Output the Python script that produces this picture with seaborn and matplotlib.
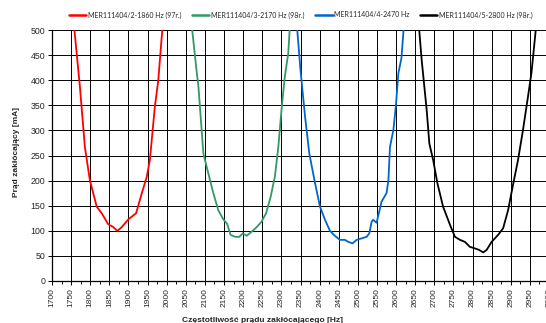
import matplotlib
matplotlib.use("Agg")
import matplotlib.pyplot as plt
import matplotlib.ticker as mticker
import seaborn as sns
import pandas as pd

# Interference-current sweeps for four receivers (frequency in Hz, current in mA)
labels = [
    "MER111404/2-1860 Hz (97r.)",
    "MER111404/3-2170 Hz (98r.)",
    "MER111404/4-2470 Hz",
    "MER111404/5-2800 Hz (98r.)",
]
colors = ["#FF0000", "#339966", "#0066CC", "#000000"]

freq_2 = [1758, 1773, 1786, 1799, 1817, 1830, 1847, 1859, 1871, 1882, 1900, 1920,
          1935, 1948, 1956, 1969, 1978, 1989]
curr_2 = [505, 387, 267, 201, 148, 135, 113, 108, 100, 107, 123, 135,
          175, 208, 241, 347, 400, 505]

freq_3 = [2066, 2078, 2083, 2096, 2109, 2122, 2135, 2148, 2158, 2167, 2179, 2190,
          2199, 2209, 2222, 2235, 2248, 2260, 2272, 2283, 2292, 2301, 2309, 2318, 2322]
curr_3 = [505, 420, 387, 254, 214, 175, 141, 123, 114, 92, 88, 88,
          95, 90, 98, 107, 118, 135, 168, 208, 267, 347, 407, 454, 505]

freq_4 = [2341, 2350, 2362, 2373, 2388, 2401, 2414, 2427, 2440, 2453, 2466, 2475,
          2486, 2497, 2510, 2523, 2530, 2536, 2540, 2549, 2562, 2575, 2580, 2584,
          2593, 2600, 2606, 2614, 2620]
curr_4 = [505, 420, 327, 254, 195, 148, 122, 100, 90, 82, 82, 78,
          75, 82, 85, 88, 95, 118, 122, 116, 158, 175, 201, 267,
          301, 354, 414, 444, 505]

freq_5 = [2660, 2667, 2680, 2687, 2697, 2708, 2723, 2741, 2754, 2767, 2780, 2793,
          2806, 2817, 2828, 2837, 2850, 2867, 2880, 2893, 2906, 2919, 2932, 2945,
          2954, 2966]
curr_5 = [505, 440, 341, 274, 241, 195, 148, 112, 88, 82, 78, 68,
          65, 62, 57, 62, 78, 92, 105, 141, 192, 241, 301, 367,
          414, 505]

frames = []
for lab, f, c in zip(labels, [freq_2, freq_3, freq_4, freq_5],
                     [curr_2, curr_3, curr_4, curr_5]):
    frames.append(pd.DataFrame({"freq": f, "curr": c, "series": lab}))
df = pd.concat(frames, ignore_index=True)

sns.set_theme(style="white")
plt.rcParams["font.family"] = ["Liberation Sans", "DejaVu Sans"]

fig = plt.figure(figsize=(5.46, 3.23), dpi=100)
ax = fig.add_axes([52 / 546, 42 / 323, 497 / 546, 251 / 323])

sns.lineplot(data=df, x="freq", y="curr", hue="series", hue_order=labels,
             palette=colors, sort=False, estimator=None, linewidth=1.3,
             ax=ax, legend=True)

ax.set_xlim(1700, 3000)
ax.set_ylim(0, 500)
ax.xaxis.set_major_locator(mticker.MultipleLocator(50))
ax.xaxis.set_minor_locator(mticker.MultipleLocator(25))
ax.yaxis.set_major_locator(mticker.MultipleLocator(50))

ax.grid(True, which="major", color="black", linewidth=0.7)
ax.set_axisbelow(True)
for side in ["top", "right"]:
    ax.spines[side].set_visible(False)
for side in ["left", "bottom"]:
    ax.spines[side].set_color("black")
    ax.spines[side].set_linewidth(0.9)

ax.tick_params(axis="x", which="major", direction="out", length=3, width=0.7,
               color="black", labelsize=6, rotation=90, pad=2, bottom=True)
ax.tick_params(axis="x", which="minor", direction="out", length=2, width=0.7,
               color="black", bottom=True)
ax.tick_params(axis="y", which="major", direction="out", length=3, width=0.7,
               color="black", labelsize=6.3, pad=2, left=True)

ax.set_xlabel("")
ax.set_ylabel("")
fig.text(17 / 546, 1 - 152 / 323, "Prąd zakłócający [mA]", rotation=90,
         ha="center", va="center", fontsize=6, fontweight="bold")
fig.text(262 / 546, 1 - 321 / 323, "Częstotliwość prądu zakłócającego [Hz]",
         ha="center", va="center", fontsize=6, fontweight="bold")

handles, lbls = ax.get_legend_handles_labels()
for h in handles:
    h.set_linewidth(1.8)
ax.legend(handles, lbls, loc="center", bbox_to_anchor=(301 / 546, 1 - 15 / 323),
          bbox_transform=fig.transFigure, ncol=4, frameon=False,
          handlelength=2.5, handletextpad=0.25, columnspacing=1.5,
          borderpad=0.2, prop={"family": ["Lato", "DejaVu Sans"], "size": 5.0})

fig.savefig("out.png", dpi=100)
